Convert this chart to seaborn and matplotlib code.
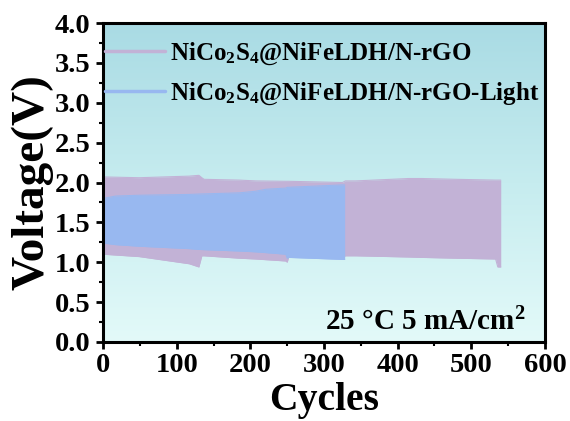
import numpy as np
import pandas as pd
import matplotlib
matplotlib.use('Agg')
import matplotlib.pyplot as plt
from matplotlib.colors import LinearSegmentedColormap
from matplotlib.ticker import MultipleLocator
import seaborn as sns

# envelope of the charge/discharge curves
# NiCo2S4@NiFeLDH/N-rGO
dark_cycles = [0, 49, 117, 130, 134, 137, 185, 207, 248, 250, 252, 325, 329, 343, 415, 433, 479, 533, 536, 540]
dark_upper = [2.07, 2.06, 2.08, 2.09, 2.06, 2.04, 2.03, 2.02, 2.015, 2.015, 2.015, 2.00, 2.02, 2.02, 2.05, 2.05, 2.04, 2.03, 2.03, 2.03]
dark_lower = [1.10, 1.07, 0.98, 0.94, 1.08, 1.08, 1.05, 1.04, 1.015, 1.00, 1.07, 1.06, 1.08, 1.08, 1.065, 1.06, 1.05, 1.04, 0.94, 0.94]

# NiCo2S4@NiFeLDH/N-rGO-Light
light_cycles = [0, 17, 49, 117, 130, 185, 207, 221, 248, 250, 252, 325, 328]
light_upper = [1.80, 1.83, 1.84, 1.85, 1.855, 1.87, 1.89, 1.915, 1.93, 1.94, 1.94, 1.97, 1.97]
light_lower = [1.24, 1.22, 1.20, 1.17, 1.16, 1.14, 1.13, 1.12, 1.10, 1.05, 1.06, 1.035, 1.035]

labels = ['NiCo$_2$S$_4$@NiFeLDH/N-rGO', 'NiCo$_2$S$_4$@NiFeLDH/N-rGO-Light']
note = '25 \u00b0C 5 mA/cm$^2$'

sns.set_style('ticks')
plt.rcParams['font.family'] = ['Liberation Serif', 'DejaVu Serif']
plt.rcParams['font.weight'] = 'bold'
plt.rcParams['text.color'] = 'black'
plt.rcParams['axes.labelcolor'] = 'black'
plt.rcParams['xtick.color'] = 'black'
plt.rcParams['ytick.color'] = 'black'
plt.rcParams['mathtext.fontset'] = 'custom'
plt.rcParams['mathtext.rm'] = 'Liberation Serif:bold'
plt.rcParams['mathtext.it'] = 'Liberation Serif:bold'
plt.rcParams['mathtext.bf'] = 'Liberation Serif:bold'

dark = pd.DataFrame({'cycle': dark_cycles, 'upper': dark_upper, 'lower': dark_lower})
light = pd.DataFrame({'cycle': light_cycles, 'upper': light_upper, 'lower': light_lower})

c_dark = '#c2b2d6'
c_light = '#98b8f0'

fig, ax = plt.subplots(figsize=(5.7, 4.21), dpi=100)
fig.subplots_adjust(left=0.181, right=0.956, bottom=0.188, top=0.945)

# gradient background
bg = LinearSegmentedColormap.from_list('bg', ['#e3faf9', '#c6ecef', '#a9dbe4'])
ax.imshow(np.linspace(0, 1, 256).reshape(-1, 1), extent=[0, 600, 0, 4], aspect='auto',
          cmap=bg, origin='lower', zorder=0)

for df, c, lab in [(dark, c_dark, labels[0]), (light, c_light, labels[1])]:
    ax.fill_between(df['cycle'], df['lower'], df['upper'], color=c, lw=0, zorder=2)
    sns.lineplot(data=df, x='cycle', y='upper', ax=ax, color=c, lw=0.8, label=lab, zorder=2)
    sns.lineplot(data=df, x='cycle', y='lower', ax=ax, color=c, lw=0.8, zorder=2)

ax.set_xlim(0, 600)
ax.set_ylim(0, 4.0)
ax.xaxis.set_major_locator(MultipleLocator(100))
ax.xaxis.set_minor_locator(MultipleLocator(50))
ax.yaxis.set_major_locator(MultipleLocator(0.5))
ax.yaxis.set_minor_locator(MultipleLocator(0.25))
ax.yaxis.set_major_formatter(matplotlib.ticker.FormatStrFormatter('%.1f'))
ax.tick_params(which='major', direction='out', length=5, width=2, labelsize=20.5, colors='black')
ax.tick_params(which='minor', direction='out', length=3, width=1.5)
ax.tick_params(axis='x', pad=3)
ax.tick_params(axis='y', pad=4)
for s in ax.spines.values():
    s.set_linewidth(2.2)
    s.set_color('black')

ax.set_xlabel('Cycles', fontsize=28.5, fontweight='bold', labelpad=3)
ax.set_ylabel('Voltage(V)', fontsize=34, fontweight='bold', labelpad=1)

leg = ax.legend(loc='upper left', bbox_to_anchor=(0.005, 0.945), frameon=False,
                handlelength=2.4, handletextpad=0.2, borderpad=0, borderaxespad=0, labelspacing=0.55,
                prop={'weight': 'bold', 'size': 18})
for line in leg.get_lines():
    line.set_linewidth(2.5)

ax.text(0.955, 0.035, note, transform=ax.transAxes, ha='right', va='baseline',
        fontsize=21, fontweight='bold')

fig.savefig('out.png', dpi=100)
